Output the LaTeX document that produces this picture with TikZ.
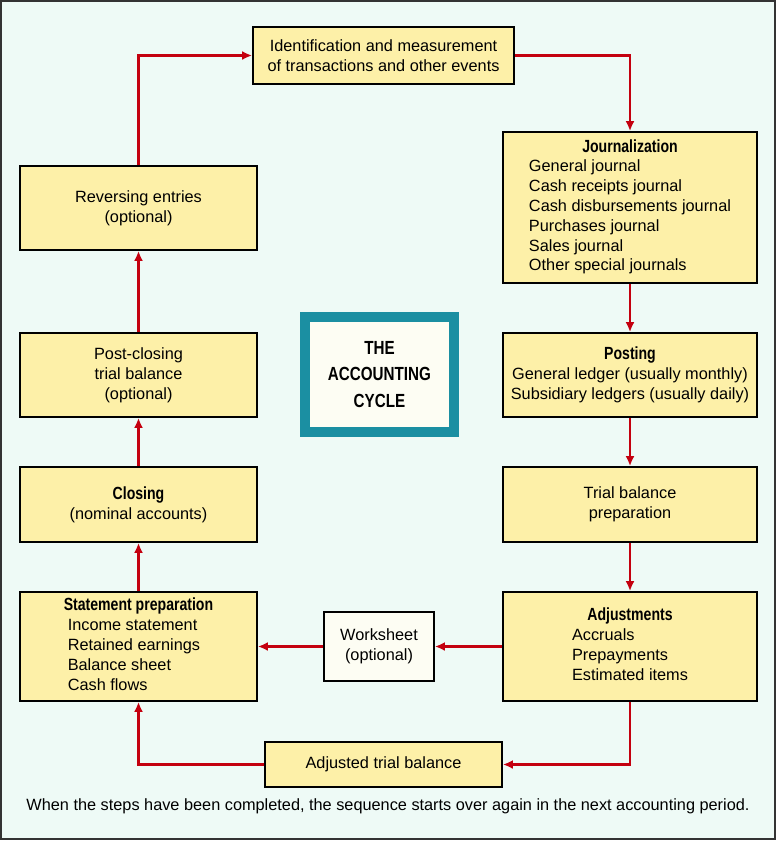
\documentclass[tikz,border=0pt]{standalone}
\usepackage{fontspec}
\setmainfont[BoldFeatures={FakeStretch=0.80}]{Liberation Sans}
\usetikzlibrary{arrows.meta}
\definecolor{bgc}{HTML}{EEFAF6}
\definecolor{boxc}{HTML}{FDF0A8}
\definecolor{arrc}{HTML}{C4000F}
\definecolor{tealc}{HTML}{1B8FA2}
\definecolor{ivory}{HTML}{FDFDF3}
\newcommand{\ttlx}[1]{{\fontsize{17.6}{19.8}\selectfont\bfseries #1}}
\tikzset{
  stepbox/.style={draw=black, line width=1.8pt, fill=boxc, inner sep=0pt, align=center,
    font=\fontsize{16.3}{19.8}\selectfont},
  flow/.style={draw=arrc, line width=2.6pt, -{Latex[length=10pt,width=9pt]}},
}
\begin{document}
\begin{tikzpicture}[x=1pt,y=-1pt]
\useasboundingbox (0,0) rectangle (776,841);
\draw[fill=bgc, draw=black!80, line width=1.5pt] (1,1) rectangle (775,839);

\node[stepbox, minimum width=261pt, minimum height=57pt] (ident) at (383.5,55.5)
  {Identification and measurement\\of transactions and other events};
\node[stepbox, minimum width=254pt, minimum height=151pt] (journ) at (630,207.5)
  {\begin{tabular}{@{}l@{}}\multicolumn{1}{c}{\ttlx{Journalization}}\\General journal\\Cash receipts journal\\Cash disbursements journal\\Purchases journal\\Sales journal\\Other special journals\end{tabular}};
\node[stepbox, minimum width=254pt, minimum height=84pt] (post) at (630,375)
  {\ttlx{Posting}\\General ledger (usually monthly)\\Subsidiary ledgers (usually daily)};
\node[stepbox, minimum width=254pt, minimum height=75pt] (trial) at (630,504.5)
  {Trial balance\\preparation};
\node[stepbox, minimum width=254pt, minimum height=109pt] (adj) at (630,646.5)
  {\begin{tabular}{@{}l@{}}\multicolumn{1}{c}{\ttlx{Adjustments}}\\Accruals\\Prepayments\\Estimated items\end{tabular}};
\node[stepbox, minimum width=237pt, minimum height=45pt] (atb) at (383.5,764.5)
  {Adjusted trial balance};
\node[stepbox, fill=ivory, minimum width=110pt, minimum height=69pt] (ws) at (379,646.5)
  {Worksheet\\(optional)};
\node[stepbox, minimum width=237pt, minimum height=109pt] (stmt) at (138.5,646.5)
  {\begin{tabular}{@{}l@{}}\multicolumn{1}{c}{\ttlx{Statement preparation}}\\\hspace{10pt}Income statement\\\hspace{10pt}Retained earnings\\\hspace{10pt}Balance sheet\\\hspace{10pt}Cash flows\end{tabular}};
\node[stepbox, minimum width=237pt, minimum height=75pt] (close) at (138.5,504.5)
  {\ttlx{Closing}\\(nominal accounts)};
\node[stepbox, minimum width=237pt, minimum height=84pt] (postc) at (138.5,375)
  {Post-closing\\trial balance\\(optional)};
\node[stepbox, minimum width=237pt, minimum height=84pt] (rev) at (138.5,208)
  {Reversing entries\\(optional)};

\node[draw=tealc, line width=10pt, fill=ivory, minimum width=149pt, minimum height=115pt,
  align=center, font=\bfseries\fontsize{19}{26.5}\selectfont] (cyc) at (379.5,374.5)
  {THE\\ACCOUNTING\\CYCLE};

\node[font=\fontsize{16.3}{19}\selectfont] (foot) at (388,806)
  {When the steps have been completed, the sequence starts over again in the next accounting period.};

\draw[flow] (ident.east) -| (journ.north);
\draw[flow] (journ) -- (post);
\draw[flow] (post) -- (trial);
\draw[flow] (trial) -- (adj);
\draw[flow] (adj.south) |- (atb.east);
\draw[flow] (atb.west) -| (stmt.south);
\draw[flow] (adj.west) -- (ws.east);
\draw[flow] (ws.west) -- (stmt.east);
\draw[flow] (stmt) -- (close);
\draw[flow] (close) -- (postc);
\draw[flow] (postc) -- (rev);
\draw[flow] (rev.north) |- (ident.west);
\end{tikzpicture}
\end{document}
